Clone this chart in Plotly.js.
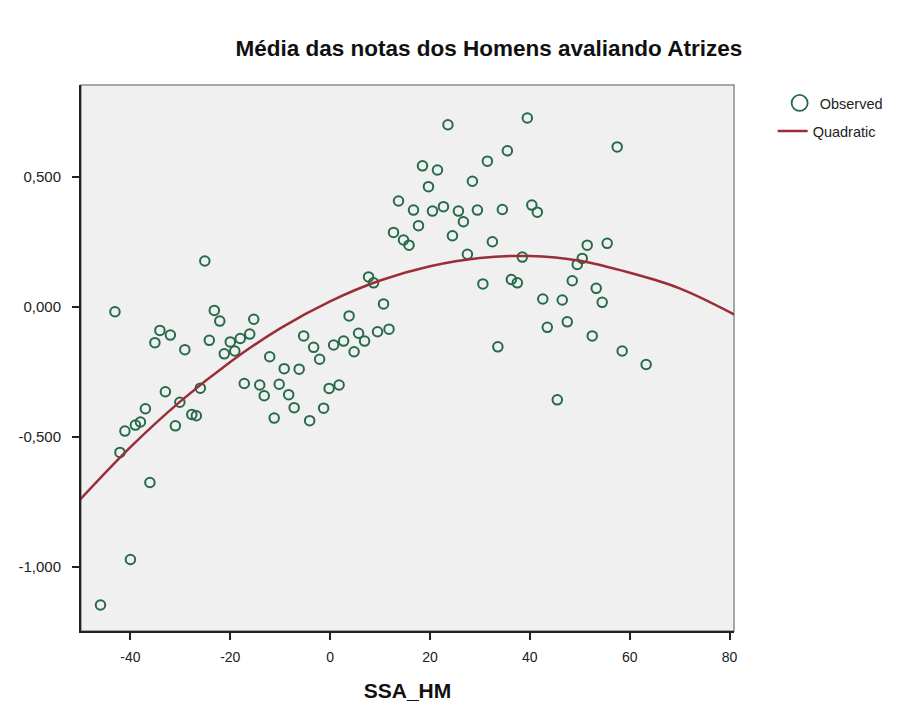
<!DOCTYPE html>
<html>
<head>
<meta charset="utf-8">
<script src="https://cdn.plot.ly/plotly-3.0.1.min.js"></script>
<style>html,body{margin:0;padding:0;background:#fff;}#chart{width:919px;height:711px;}</style>
</head>
<body>
<div id="chart"></div>
<script>
// Observed points (SSA_HM, mean score)
const obsX = [-46.0,-40.0,-36.1,-42.1,-41.1,-39.0,-38.0,-37.0,-43.1,-25.1,
  -23.2,-22.1,-15.3,-34.1,-32.0,-35.1,-29.1,-24.2,-20.0,-18.0,
  -16.1,-21.2,-19.1,-12.1,-9.2,-6.2,-17.2,-14.1,-13.2,-10.2,
  -8.3,-7.2,-11.2,-4.1,-33.0,-26.0,-30.1,-27.7,-26.8,-31.0,
  7.7,8.7,10.7,3.8,-5.3,-3.3,-2.1,0.7,2.7,5.7,
  6.9,4.8,9.5,11.8,-0.2,1.8,-1.3,23.6,39.5,35.5,
  31.5,18.5,21.5,28.5,19.7,13.7,16.7,20.5,22.7,25.7,
  26.7,29.5,34.5,40.4,41.5,17.7,12.7,14.7,15.8,24.5,
  32.5,27.5,38.5,30.6,36.3,37.5,42.6,51.5,55.5,50.5,
  49.5,48.5,53.3,54.5,46.5,43.5,47.5,52.5,58.5,63.3,
  33.6,45.5,57.5];
const obsY = [-1.147,-0.972,-0.676,-0.560,-0.478,-0.455,-0.443,-0.392,-0.019,0.176,
  -0.014,-0.055,-0.048,-0.091,-0.109,-0.138,-0.165,-0.129,-0.135,-0.122,
  -0.105,-0.181,-0.170,-0.192,-0.238,-0.240,-0.295,-0.301,-0.342,-0.298,
  -0.338,-0.388,-0.428,-0.438,-0.327,-0.313,-0.367,-0.414,-0.419,-0.458,
  0.115,0.092,0.011,-0.035,-0.112,-0.156,-0.202,-0.147,-0.132,-0.102,
  -0.132,-0.173,-0.096,-0.086,-0.314,-0.301,-0.390,0.700,0.726,0.600,
  0.560,0.542,0.526,0.483,0.462,0.407,0.372,0.368,0.385,0.368,
  0.327,0.372,0.374,0.391,0.364,0.312,0.286,0.257,0.237,0.273,
  0.250,0.202,0.191,0.088,0.105,0.092,0.030,0.237,0.244,0.186,
  0.163,0.100,0.071,0.017,0.026,-0.079,-0.058,-0.112,-0.170,-0.222,
  -0.154,-0.358,0.615];

// Quadratic fit curve
const fitX = [-50,-40,-30,-20,-10,0,10,20,30,40,50,60,70,81];
const fitY = [-0.740,-0.540,-0.364,-0.212,-0.083,0.021,0.101,0.156,0.188,0.195,0.177,0.131,0.071,-0.030];

const xTicks = [-40,-20,0,20,40,60,80];
const xTickText = ['-40','-20','0','20','40','60','80'];
const yTicks = [-1.0,-0.5,0.0,0.5];
const yTickText = ['-1,000','-0,500','0,000','0,500'];

const font = "Liberation Sans, Arial, sans-serif";
const green = '#256a4a';

const traces = [
  {x: obsX, y: obsY, type: 'scatter', mode: 'markers', name: 'Observed', showlegend: false,
   marker: {symbol: 'circle-open', size: 9.5, color: green, line: {width: 2, color: green}}},
  {x: [null], y: [null], type: 'scatter', mode: 'markers', name: 'Observed',
   marker: {symbol: 'circle-open', size: 16, color: green, line: {width: 1.8, color: green}},
   legend: 'legend'},
  {x: fitX, y: fitY, type: 'scatter', mode: 'lines', name: 'Quadratic',
   line: {color: '#9b2d36', width: 2.5, shape: 'spline'},
   legend: 'legend2'}
];

const layout = {
  width: 919, height: 711,
  paper_bgcolor: '#ffffff',
  plot_bgcolor: '#f0f0f0',
  margin: {l: 80.5, r: 184.7, t: 85, b: 80},
  font: {family: font, size: 13, color: '#222'},
  title: {text: 'Média das notas dos Homens avaliando Atrizes', xref: 'container', x: 0.532, xanchor: 'center',
          yref: 'container', y: 1 - 48/711, yanchor: 'middle',
          font: {family: font, size: 22.5, color: '#111', weight: 'bold'}},
  xaxis: {range: [-49.9, 80.9], tickvals: xTicks, ticktext: xTickText,
          showgrid: false, zeroline: false, showline: true, linecolor: '#222', linewidth: 2,
          ticks: 'outside', ticklen: 7, tickwidth: 2, tickcolor: '#222', ticklabelstandoff: 5,
          tickfont: {family: font, size: 14, color: '#222'},
          title: {text: 'SSA_HM', standoff: 20, font: {family: font, size: 21, color: '#111', weight: 'bold'}}},
  yaxis: {range: [-1.247, 0.853], tickvals: yTicks, ticktext: yTickText,
          showgrid: false, zeroline: false, showline: true, linecolor: '#222', linewidth: 2,
          ticks: 'outside', ticklen: 7, tickwidth: 2, tickcolor: '#222', ticklabelstandoff: 8,
          tickfont: {family: font, size: 15, color: '#222'}},
  shapes: [{type: 'rect', xref: 'paper', yref: 'paper', x0: 0, x1: 1, y0: 0, y1: 1,
            line: {color: '#8c8c8c', width: 1.5}, fillcolor: 'rgba(0,0,0,0)', layer: 'below'}],
  showlegend: true,
  legend: {x: (780-80.5)/653.8, xanchor: 'left', y: 1 - (87-85)/546, yanchor: 'top', bgcolor: 'rgba(0,0,0,0)',
           font: {family: font, size: 14.5, color: '#222'}},
  legend2: {x: (773-80.5)/653.8, xanchor: 'left', y: 1 - (115-85)/546, yanchor: 'top', bgcolor: 'rgba(0,0,0,0)',
           font: {family: font, size: 14.5, color: '#222'}}
};

Plotly.newPlot('chart', traces, layout, {displayModeBar: false, staticPlot: true});
</script>
</body>
</html>
